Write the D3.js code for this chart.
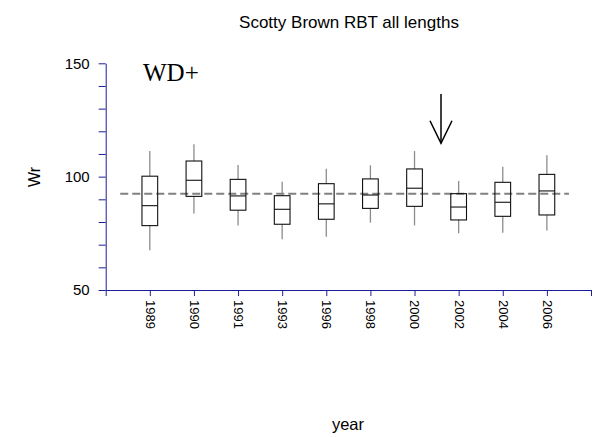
<!DOCTYPE html>
<html><head><meta charset="utf-8">
<script src="https://cdn.jsdelivr.net/npm/d3@7"></script>
<style>body{margin:0;background:#fff}svg{display:block}</style>
</head><body>
<svg id="c" width="593" height="437"></svg>
<script>
const years = ["1989","1990","1991","1993","1996","1998","2000","2002","2004","2006"];
const whiskerHigh = [111.3,114.3,105.1,97.7,103.5,105.0,111.3,98.1,104.4,109.4];
const q3 = [100.2,106.9,98.8,91.6,96.9,99.0,103.4,92.5,97.5,101.0];
const median = [87.2,98.4,91.5,85.6,88.0,91.9,94.9,86.6,88.7,93.7];
const q1 = [78.4,91.3,85.2,79.0,81.2,86.0,86.9,80.9,82.5,83.1];
const whiskerLow = [67.5,83.7,78.4,72.4,73.5,79.7,78.5,75.0,75.3,76.2];
const refValue = 92.5;
const refSpan = [0.33, 10.5];
const arrowPos = 7.6;
const arrowValues = [136.5, 114.7];
const yTicks = [50,60,70,80,90,100,110,120,130,140,150];
const yLabels = [50,100,150];

const svg = d3.select("#c");
const axisColor = "#1c1c9c";
const x = d3.scaleLinear().domain([0, years.length + 1]).range([105.7, 591]);
const y = d3.scaleLinear().domain([50,150]).range([290, 63.3]);

// axes
const yAxis = d3.axisLeft(y).tickValues(yTicks).tickSize(7).tickSizeOuter(0)
  .tickFormat(d => yLabels.includes(d) ? d : "");
const gy = svg.append("g").attr("transform", `translate(${x(0)},0)`).call(yAxis);
gy.selectAll("path,line").attr("stroke", axisColor);
gy.selectAll("text").attr("font-family","Liberation Sans, Arial, sans-serif").attr("font-size",15).attr("fill","#000").attr("x",-16);

const xTickVals = d3.range(0, years.length + 2);
const xAxis = d3.axisBottom(x).tickValues(xTickVals).tickSize(6).tickSizeOuter(0)
  .tickFormat(d => (d >= 1 && d <= years.length) ? years[d-1] : "");
const gx = svg.append("g").attr("transform", `translate(0,${y(50)})`).call(xAxis);
gx.selectAll("path,line").attr("stroke", axisColor);
gx.selectAll("text").attr("font-family","Liberation Sans, Arial, sans-serif").attr("font-size",13).attr("fill","#000")
  .attr("text-anchor","start").attr("transform","rotate(90)").attr("y",0).attr("x",10).attr("dy","0.35em");

// reference dashed line
svg.append("line").attr("x1", x(refSpan[0])).attr("x2", x(refSpan[1]))
  .attr("y1", y(refValue)).attr("y2", y(refValue))
  .attr("stroke","#808080").attr("stroke-width",2).attr("stroke-dasharray","8,4");

// boxes
const bw = 15.7;
const data = years.map((yr,i)=>({yr,i,hi:whiskerHigh[i],q3:q3[i],med:median[i],q1:q1[i],lo:whiskerLow[i]}));
const g = svg.append("g").selectAll("g").data(data).join("g");
g.append("line").attr("x1",d=>x(d.i+1)).attr("x2",d=>x(d.i+1)).attr("y1",d=>y(d.hi)).attr("y2",d=>y(d.q3)).attr("stroke","#8c8c8c").attr("stroke-width",1.3);
g.append("line").attr("x1",d=>x(d.i+1)).attr("x2",d=>x(d.i+1)).attr("y1",d=>y(d.q1)).attr("y2",d=>y(d.lo)).attr("stroke","#8c8c8c").attr("stroke-width",1.3);
g.append("rect").attr("x",d=>x(d.i+1)-bw/2).attr("width",bw).attr("y",d=>y(d.q3)).attr("height",d=>y(d.q1)-y(d.q3))
  .attr("fill","none").attr("stroke","#111").attr("stroke-width",1.1);
g.append("line").attr("x1",d=>x(d.i+1)-bw/2).attr("x2",d=>x(d.i+1)+bw/2).attr("y1",d=>y(d.med)).attr("y2",d=>y(d.med)).attr("stroke","#111").attr("stroke-width",1.1);

// arrow
const ax = x(arrowPos), ay0 = y(arrowValues[0]), ay1 = y(arrowValues[1]);
svg.append("line").attr("x1",ax).attr("x2",ax).attr("y1",ay0).attr("y2",ay1).attr("stroke","#000").attr("stroke-width",1.5);
svg.append("path").attr("d",`M${ax-11},${ay1-22.6}L${ax},${ay1}L${ax+11},${ay1-22.6}`).attr("fill","none").attr("stroke","#000").attr("stroke-width",1.5);

// texts
svg.append("text").attr("x",143).attr("y",81).attr("font-family","Liberation Serif, Times New Roman, serif").attr("font-size",25).text("WD+");
svg.append("text").attr("x",349).attr("y",28).attr("text-anchor","middle").attr("font-family","Liberation Sans, Arial, sans-serif").attr("font-size",17).text("Scotty Brown RBT all lengths");
svg.append("text").attr("x",348).attr("y",430).attr("text-anchor","middle").attr("font-family","Liberation Sans, Arial, sans-serif").attr("font-size",16.5).text("year");
svg.append("text").attr("transform","translate(40,177) rotate(-90)").attr("text-anchor","middle").attr("font-family","Liberation Sans, Arial, sans-serif").attr("font-size",16).text("Wr");
</script>
</body></html>
